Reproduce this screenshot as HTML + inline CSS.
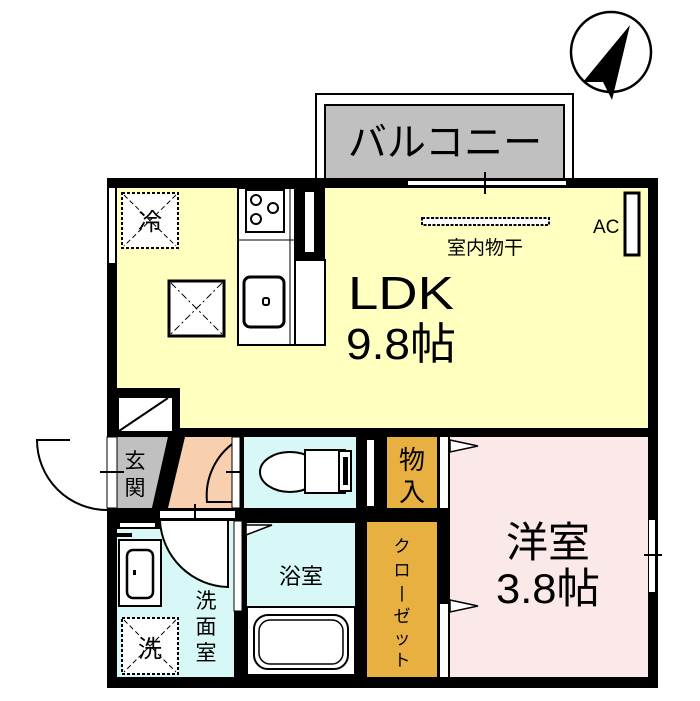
<!DOCTYPE html>
<html><head><meta charset="utf-8"><style>
html,body{margin:0;padding:0;background:#fff;}
svg{display:block;}
text{font-family:"Liberation Sans","Noto Sans CJK JP",sans-serif;fill:#000;}
</style></head><body>
<svg width="700" height="701" viewBox="0 0 700 701" xmlns="http://www.w3.org/2000/svg">
<rect width="700" height="701" fill="#fff"/>
<!-- north arrow -->
<circle cx="611" cy="52" r="40" fill="#fff" stroke="#000" stroke-width="2.5"/>
<polygon points="630,25 583,82 603,82 612,100" fill="#000"/>
<!-- balcony -->
<rect x="316" y="94" width="257" height="90" fill="#fff" stroke="#000" stroke-width="2"/>
<rect x="325" y="105" width="239" height="75" fill="#c0c0c0" stroke="#000" stroke-width="2"/>
<text x="445" y="156" font-size="39" text-anchor="middle">バルコニー</text>
<!-- outer wall -->
<rect x="107" y="178" width="551" height="510" fill="#000"/>
<!-- LDK -->
<rect x="117" y="188" width="531" height="240" fill="#ffffc0"/>
<!-- balcony window -->
<rect x="408" y="181" width="158" height="4" fill="#fff"/>
<line x1="485" y1="172" x2="485" y2="194" stroke="#000" stroke-width="2"/>
<!-- left window -->
<rect x="109" y="188" width="6" height="75" fill="#fff"/>
<!-- fridge -->
<rect x="122" y="193" width="56" height="55" fill="#fff" stroke="#000" stroke-width="2" stroke-dasharray="3,2"/>
<line x1="124" y1="195" x2="176" y2="246" stroke="#000" stroke-dasharray="5,3"/>
<line x1="176" y1="195" x2="124" y2="246" stroke="#000" stroke-dasharray="5,3"/>
<text x="150" y="230" font-size="24" text-anchor="middle">冷</text>
<!-- drain box -->
<rect x="169" y="281" width="55" height="55" fill="#fff" stroke="#000" stroke-width="3"/>
<line x1="171" y1="283" x2="222" y2="334" stroke="#000" stroke-dasharray="7,3,2,3"/>
<line x1="222" y1="283" x2="171" y2="334" stroke="#000" stroke-dasharray="7,3,2,3"/>
<!-- kitchen counter -->
<rect x="238" y="188" width="57" height="157" fill="#fff" stroke="#000" stroke-width="2"/>
<line x1="290" y1="188" x2="290" y2="345" stroke="#000"/>
<rect x="246" y="190" width="38" height="42" fill="#fff" stroke="#000" stroke-width="2"/>
<line x1="238" y1="240" x2="295" y2="240" stroke="#000"/>
<circle cx="256" cy="200" r="5" fill="none" stroke="#000" stroke-width="2"/>
<circle cx="273" cy="208" r="5" fill="none" stroke="#000" stroke-width="2"/>
<circle cx="256" cy="219" r="5" fill="none" stroke="#000" stroke-width="2"/>
<rect x="244" y="277" width="40" height="50" rx="6" fill="#fff" stroke="#000" stroke-width="3"/>
<rect x="263" y="298" width="6" height="7" rx="2" fill="none" stroke="#000" stroke-width="2"/>
<!-- wall piece by kitchen -->
<rect x="295" y="188" width="30" height="72" fill="#000"/>
<rect x="305" y="192" width="9" height="60" fill="#fff"/>
<rect x="295" y="260" width="30" height="85" fill="#fff" stroke="#000" stroke-width="2"/>
<!-- LDK text -->
<text x="348" y="309" font-size="46" textLength="106" lengthAdjust="spacingAndGlyphs">LDK</text>
<text x="346" y="359" font-size="44" textLength="110" lengthAdjust="spacingAndGlyphs">9.8帖</text>
<!-- indoor dryer -->
<rect x="422" y="218" width="127" height="7" fill="#fff" stroke="#000" stroke-width="2" stroke-dasharray="3,1.5"/>
<text x="485" y="254" font-size="19" text-anchor="middle">室内物干</text>
<text x="593" y="233" font-size="19">AC</text>
<rect x="625" y="193" width="14" height="62" fill="#fff" stroke="#000" stroke-width="3"/>
<!-- shoe closet -->
<rect x="117" y="388" width="63" height="45" fill="#000"/>
<rect x="119" y="398" width="53" height="33" fill="#fff"/>
<line x1="119" y1="431" x2="168" y2="398" stroke="#000" stroke-width="2"/>
<!-- lower dividing wall -->
<rect x="250" y="428" width="400" height="9" fill="#000"/>
<!-- genkan gray -->
<polygon points="117,437 168,437 152,508 117,508" fill="#c0c0c0"/>
<rect x="107" y="437" width="10" height="71" fill="#fff" stroke="#000" stroke-width="1"/>
<line x1="100" y1="472" x2="124" y2="472" stroke="#000" stroke-width="2"/>
<path d="M70,440 L37,440 A70,70 0 0 0 107,510" fill="none" stroke="#000" stroke-width="2"/>
<text x="135" y="468" font-size="21" text-anchor="middle" fill="#333">玄</text>
<text x="135" y="495" font-size="21" text-anchor="middle" fill="#333">関</text>
<polygon points="168,437 176,437 160,508 152,508" fill="#000"/>
<polygon points="178,437 183,437 167,508 162,508" fill="#000"/>
<!-- peach -->
<polygon points="185,437 235,437 235,508 168,508" fill="#f8d0b0"/>
<path d="M235,442 A65,65 0 0 0 207,502 L240,502" fill="none" stroke="#000" stroke-width="2"/>
<rect x="232" y="437" width="8" height="71" fill="#fff" stroke="#000" stroke-width="1"/>
<line x1="226" y1="472" x2="248" y2="472" stroke="#000" stroke-width="2"/>
<!-- toilet -->
<rect x="244" y="437" width="112" height="71" fill="#d8f8f8"/>
<ellipse cx="290" cy="472" rx="30" ry="20" fill="#fff" stroke="#000" stroke-width="2"/>
<rect x="305" y="450" width="40" height="43" fill="#fff" stroke="#000" stroke-width="2"/>
<rect x="339" y="451" width="12" height="40" fill="#fff" stroke="#000" stroke-width="2"/>
<rect x="343" y="457" width="5" height="28" fill="#000"/>
<!-- wall between toilet & monoire -->
<rect x="356" y="437" width="31" height="71" fill="#000"/>
<rect x="367" y="440" width="7" height="66" fill="#fff"/>
<rect x="387" y="437" width="50" height="71" fill="#e8b040"/>
<text x="412" y="469" font-size="26" text-anchor="middle" fill="#222">物</text>
<text x="412" y="501" font-size="26" text-anchor="middle" fill="#222">入</text>
<rect x="440" y="437" width="8" height="71" fill="#fff"/>
<!-- horizontal wall -->
<rect x="117" y="508" width="333" height="13" fill="#000"/>
<rect x="160" y="511" width="75" height="7" fill="#fff"/>
<line x1="195" y1="504" x2="195" y2="524" stroke="#000" stroke-width="2"/>
<!-- wash room -->
<rect x="117" y="521" width="117" height="156" fill="#d8f8f8"/>
<rect x="117" y="521" width="43" height="8" fill="#000"/>
<rect x="120" y="523" width="35" height="4" fill="#fff"/>
<rect x="117" y="533" width="15" height="4" fill="#000"/>
<rect x="119" y="540" width="42" height="66" fill="#fff" stroke="#000" stroke-width="2"/>
<rect x="127" y="550" width="26" height="48" rx="6" fill="#fff" stroke="#000" stroke-width="2.5"/>
<rect x="133" y="570" width="3" height="5" fill="#000"/>
<path d="M160,521 A70,70 0 0 0 228,587 L228,521" fill="#fff" stroke="#000" stroke-width="2"/>
<rect x="122" y="618" width="56" height="56" fill="#fff" stroke="#000" stroke-width="2" stroke-dasharray="3,2"/>
<line x1="124" y1="620" x2="176" y2="672" stroke="#000" stroke-dasharray="5,3"/>
<line x1="176" y1="620" x2="124" y2="672" stroke="#000" stroke-dasharray="5,3"/>
<text x="150" y="657" font-size="24" text-anchor="middle">洗</text>
<text x="206" y="608" font-size="21" text-anchor="middle" fill="#333">洗</text>
<text x="206" y="634" font-size="21" text-anchor="middle" fill="#333">面</text>
<text x="206" y="660" font-size="21" text-anchor="middle" fill="#333">室</text>
<!-- wall -->
<rect x="234" y="521" width="11" height="156" fill="#000"/>
<rect x="234" y="521" width="8" height="90" fill="#fff" stroke="#000" stroke-width="1"/>
<!-- bathroom -->
<rect x="246" y="522" width="110" height="154" fill="#d8f8f8" stroke="#000" stroke-width="2"/>
<polygon points="246,525 272,525 246,535" fill="#fff" stroke="#000" stroke-width="1.5"/>
<text x="301" y="584" font-size="22" text-anchor="middle" fill="#333">浴室</text>
<rect x="247" y="607" width="108" height="68" fill="#fff" stroke="#000" stroke-width="2"/>
<rect x="254" y="615" width="94" height="54" rx="14" fill="#fff" stroke="#000" stroke-width="2"/>
<rect x="259" y="620" width="84" height="44" rx="11" fill="#fff" stroke="#000" stroke-width="1.5"/>
<!-- closet -->
<rect x="356" y="521" width="11" height="156" fill="#000"/>
<rect x="367" y="522" width="70" height="155" fill="#e8b040"/>
<text x="402" y="552" font-size="17" text-anchor="middle" fill="#222">ク</text>
<text x="402" y="576" font-size="17" text-anchor="middle" fill="#222">ロ</text>
<text x="402" y="598" font-size="17" text-anchor="middle" fill="#222">|</text>
<text x="402" y="622" font-size="17" text-anchor="middle" fill="#222">ゼ</text>
<text x="402" y="644" font-size="17" text-anchor="middle" fill="#222">ッ</text>
<text x="402" y="666" font-size="17" text-anchor="middle" fill="#222">ト</text>
<rect x="440" y="604" width="8" height="73" fill="#fff"/>
<!-- western room -->
<rect x="450" y="437" width="198" height="240" fill="#fbe8e8"/>
<polygon points="450,440 478,446 450,452" fill="#fff" stroke="#000" stroke-width="1.5"/>
<polygon points="450,600 478,606 450,612" fill="#fff" stroke="#000" stroke-width="1.5"/>
<text x="548" y="557" font-size="42" text-anchor="middle">洋室</text>
<text x="548" y="603" font-size="42" text-anchor="middle" textLength="104" lengthAdjust="spacingAndGlyphs">3.8帖</text>
<rect x="649" y="520" width="6" height="72" fill="#fff"/>
<line x1="644" y1="555" x2="662" y2="555" stroke="#000" stroke-width="2"/>
</svg>
</body></html>
